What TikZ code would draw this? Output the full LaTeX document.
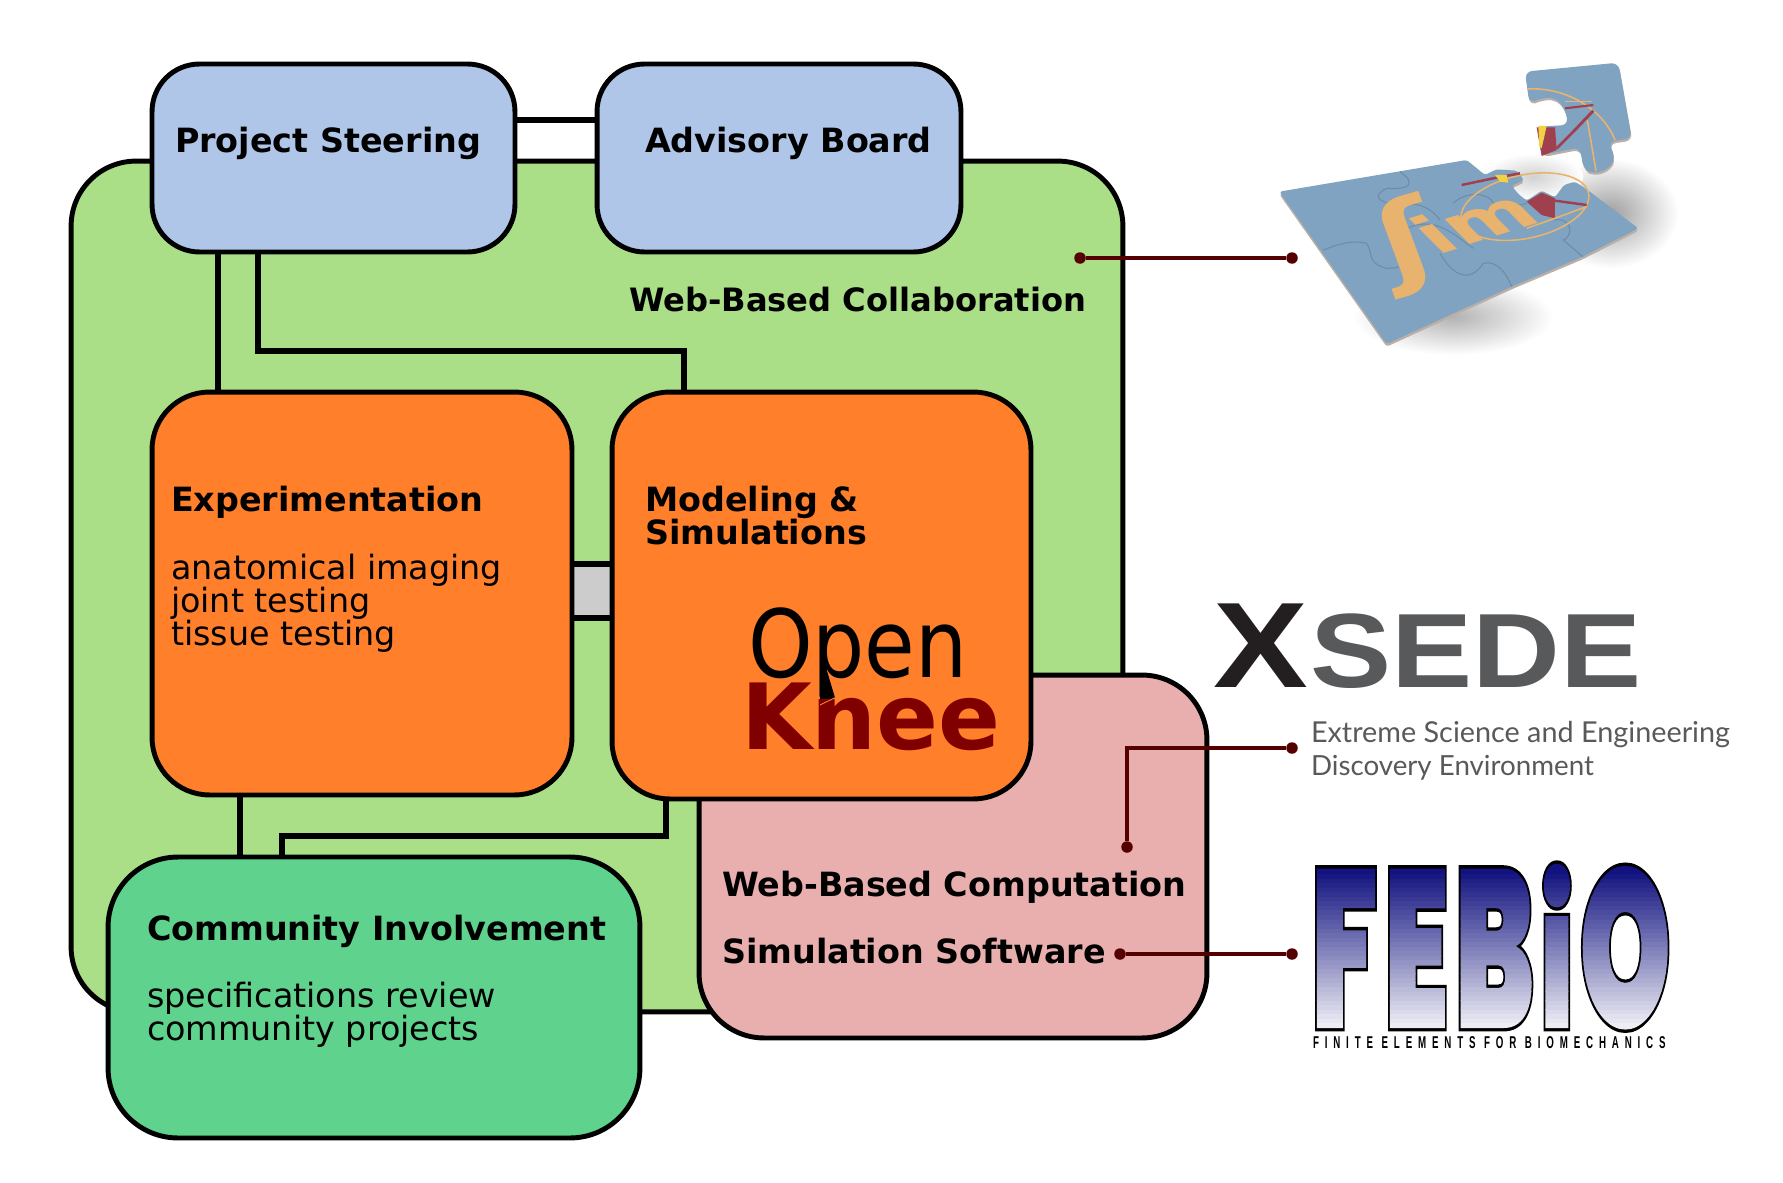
\documentclass[tikz,border=0pt]{standalone}
\usepackage{fontspec}
\usepackage{graphicx}
\usetikzlibrary{calc}
\setmainfont{DejaVu Sans}
\newfontfamily\libsans{Liberation Sans}
\newfontfamily\lato{Lato}
\newfontfamily\febfont{Poppins}[UprightFont={* Black},BoldFont={* Black}]
\newfontfamily\finfont{Liberation Sans}[LetterSpace=60]
\definecolor{cgreen}{HTML}{AADE87}
\definecolor{cblue}{HTML}{AFC6E9}
\definecolor{corange}{HTML}{FF7F2A}
\definecolor{cpink}{HTML}{E9AFAF}
\definecolor{ccomm}{HTML}{5FD38D}
\definecolor{cknee}{HTML}{800000}
\definecolor{clink}{HTML}{550000}
\definecolor{cgraylogo}{HTML}{58595B}
\definecolor{cblack}{HTML}{231F20}
\definecolor{pzblue}{HTML}{7FA3C0}
\definecolor{pzedge}{HTML}{B9AFA6}
\definecolor{pzline}{HTML}{6F8CA6}
\definecolor{pztan}{HTML}{E8B36E}
\definecolor{pzred}{HTML}{A0404F}
\AtBeginDocument{\normallineskiplimit=-6pt\relax\lineskiplimit=-6pt\relax}
\tikzset{
  boxn/.style={draw=black,line width=2.8pt,inner sep=0,outer sep=0,rectangle},
  conn/.style={draw=black,line width=3.5pt},
  link/.style={draw=clink,line width=2.6pt},
  dotn/.style={circle,fill=clink,inner sep=0,outer sep=0,minimum size=0.23cm},
  lab/.style={anchor=base west,inner sep=0,outer sep=0,font=\fontsize{19}{18.7}\selectfont,align=left},
  blab/.style={lab,font=\fontsize{19}{18.7}\selectfont\bfseries},
  logot/.style={anchor=base west,inner sep=0,outer sep=0},
}
\newcommand{\pzloose}{(855,95) -- (1135,68) -- (1175,295) -- (1105,305) -- (1125,350) -- (1110,385) -- (1060,402) -- (1030,385) -- (1020,322) -- (905,345) -- (890,260) -- (985,255) -- (975,205) -- (945,172) -- (900,175) -- (868,190) -- cycle}
\newcommand{\pzmain}{(118,455) -- (680,360) -- (735,405) -- (770,388) -- (830,392) -- (852,420) -- (815,437) -- (835,462) -- (860,482) -- (905,452) -- (945,472) -- (972,435) -- (1005,425) -- (1040,448) -- (1195,565) -- (1028,650) -- (815,740) -- (440,912) -- cycle}
% vertical gradient clipped to the word: drawn in the word's own coordinates
\newcommand{\febioword}{%
  \fontsize{100}{100}\febfont
  \rule{0pt}{70pt}%
  \special{pdf:literal direct q 5 Tr 0 0 0 RG 3 w}%
  F\kern5pt E\kern5pt B\kern5pt{\fontsize{88}{88}\selectfont i}\kern5pt O%
  \special{pdf:literal direct 0 Tr}%
  \special{pdf:literal 0.07 0.07 0.50 rg -600 68 800 40 re f 0.93 0.93 0.96 rg -600 -30 800 30 re f}%
  \foreach \i in {0,...,34}{%
    \pgfmathsetmacro{\tf}{\i/34}%
    \pgfmathsetmacro{\cr}{0.93-0.86*\tf}%
    \pgfmathsetmacro{\cg}{0.93-0.86*\tf}%
    \pgfmathsetmacro{\cb}{0.96-0.46*\tf}%
    \pgfmathsetmacro{\yy}{\i*2}%
    \special{pdf:literal \cr\space\cg\space\cb\space rg -600 \yy\space 800 2.2 re f}%
  }%
  \special{pdf:literal direct Q}%
}
\begin{document}
\begin{tikzpicture}[x=0.02cm,y=-0.02cm]
\useasboundingbox (0,0) rectangle (1783,1183);
\fill[white] (0,0) rectangle (1783,1183);

% large panels
\node[boxn,fill=cgreen,rounded corners=1.3cm,minimum width=21.04cm,minimum height=17.02cm] (gr) at (597,586.5) {};
\node[boxn,fill=cpink,rounded corners=1.3cm,minimum width=10.16cm,minimum height=7.26cm] (pk) at (953,856.5) {};

% anchors for the connector columns
\coordinate (c1) at (218,0);
\coordinate (c2) at (258,351);
\coordinate (c3) at (684,351);
\coordinate (c4) at (240,0);
\coordinate (c5) at (666,836);
\coordinate (c6) at (282,836);
\coordinate (r1) at (0,120);
\coordinate (r2) at (0,591);

% boxes are declared first with a path-less pass so connectors can go beneath them
\path node[minimum width=7.26cm,minimum height=3.76cm,inner sep=0,outer sep=0] (ps) at (333.5,158) {}
      node[minimum width=7.28cm,minimum height=3.76cm,inner sep=0,outer sep=0] (ab) at (779,158) {}
      node[minimum width=8.4cm,minimum height=8.06cm,inner sep=0,outer sep=0] (ex) at (362,593.5) {}
      node[minimum width=8.38cm,minimum height=8.14cm,inner sep=0,outer sep=0] (mo) at (821.5,595.5) {}
      node[minimum width=10.64cm,minimum height=5.62cm,inner sep=0,outer sep=0] (cm) at (374,997.5) {};

% connectors
\draw[conn] (ps.east |- r1) -- (ab.west |- r1);
\draw[conn] (c1 |- ps.south) -- (c1 |- ex.north);
\draw[conn] (c2 |- ps.south) -- (c2) -- (c3) -- (c3 |- mo.north);
\draw[conn] (c4 |- ex.south) -- (c4 |- cm.north);
\draw[conn] (c5 |- mo.south) -- (c5) -- (c6) -- (c6 |- cm.north);
\draw[black,line width=3.4pt,double=black!20,double distance=0.96cm] (ex.east |- r2) -- (mo.west |- r2);

% boxes
\node[boxn,fill=cblue,rounded corners=0.95cm,minimum width=7.26cm,minimum height=3.76cm] at (ps) {};
\node[boxn,fill=cblue,rounded corners=0.95cm,minimum width=7.28cm,minimum height=3.76cm] at (ab) {};
\node[boxn,fill=corange,rounded corners=1.15cm,minimum width=8.4cm,minimum height=8.06cm] at (ex) {};
\node[boxn,fill=corange,rounded corners=1.15cm,minimum width=8.38cm,minimum height=8.14cm] at (mo) {};
\node[boxn,fill=ccomm,rounded corners=1.4cm,minimum width=10.64cm,minimum height=5.62cm] at (cm) {};

% labels
\node[blab] (t1) at (175,152) {Project Steering};
\node[blab] (t2) at (645,152) {Advisory Board};
\node[blab,font=\fontsize{18.3}{18.7}\selectfont\bfseries] (t3) at (629,311) {Web-Based Collaboration};
\node[blab] (t4) at (171,511) {Experimentation};
\node[lab] (t5) at (171,645) {anatomical imaging\\joint testing\\tissue testing};
\node[blab] (t6) at (645,544) {Modeling \&\\Simulations};
\node[blab] (t7) at (722,896) {Web-Based Computation};
\node[blab] (t8) at (722,963) {Simulation Software};
\node[blab] (t9) at (147,940) {Community Involvement};
\node[lab] (t10) at (147,1040) {specifications review\\community projects};

% Open Knee
\node[anchor=base west,inner sep=0,outer sep=0,font=\fontsize{53.5}{53.5}\selectfont] (open) at (748,677) {\scalebox{.875}[1]{Open}};
\fill[black] (826.7,670) -- (835,697.7) -- (820,705) -- (820,670) -- cycle;
\node[anchor=base west,inner sep=0,outer sep=0,text=cknee,font=\fontsize{52}{52}\selectfont\bfseries] (knee) at (741,749) {Knee};
\draw[corange,line width=0.5pt] (820,705) -- (835,697.7);

% dots and leader lines
\node[dotn] (d1) at (1080,258) {};
\node[dotn] (d2) at (1292,258) {};
\node[dotn] (d3) at (1127,847) {};
\node[dotn] (d4) at (1292,748) {};
\node[dotn] (d5) at (1120,954) {};
\node[dotn] (d6) at (1292,954) {};
\draw[link] (d1) -- (d2);
\draw[link] (d3) |- (d4);
\draw[link] (d5) -- (d6);

% puzzle picture
\begin{scope}[shift={(1240,40)},x=0.00667cm,y=-0.00667cm]
  \shade[inner color=black!38,outer color=white] (1110,520) ellipse (205 and 165);
  \shade[inner color=black!30,outer color=white] (640,830) ellipse (300 and 115);
  \shade[inner color=black!18,outer color=white] (880,410) ellipse (150 and 70);
  \fill[pzedge,rounded corners=1.5pt,shift={(0,8)}] \pzmain;
  \fill[pzblue,rounded corners=1.5pt] \pzmain;
  % jigsaw seams
  \draw[pzline,line width=0.6pt] (250,630) .. controls (300,610) and (340,600) .. (380,610) .. controls (400,640) and (380,670) .. (440,685) .. controls (500,685) and (530,660) .. (520,625) .. controls (470,590) and (470,570) .. (530,555) .. controls (600,540) and (650,590) .. (700,625);
  \draw[pzline,line width=0.6pt] (480,395) .. controls (530,430) and (510,450) .. (440,445) .. controls (390,470) and (420,490) .. (480,495) .. controls (530,485) and (570,500) .. (600,540);
  \draw[pzline,line width=0.6pt] (600,640) .. controls (640,710) and (690,730) .. (730,670) .. controls (770,660) and (800,700) .. (815,740);
  \draw[pzline,line width=0.6pt] (640,490) .. controls (680,450) and (750,460) .. (760,490) .. controls (800,500) and (830,500) .. (860,490);
  \draw[pzline,line width=0.6pt] (940,540) .. controls (1000,530) and (1000,590) .. (970,600) -- (1028,650);
  % circle and red detail
  \draw[pztan,line width=0.9pt,rotate around={12:(855,500)}] (855,500) ellipse (195 and 95);
  \fill[pzred] (860,485) -- (905,458) -- (945,475) -- (945,535) -- (905,525) -- cycle;
  \draw[pzred,line width=1.4pt] (930,480) -- (1040,495);
  \draw[pzred,line width=1.4pt] (665,435) -- (760,415) -- (840,400);
  \fill[pztan!60!yellow] (765,405) -- (800,405) -- (805,428) -- (780,425) -- cycle;
  \draw[pztan,line width=0.9pt] (860,565) -- (945,535) -- (1040,500);
  % loose piece
  \fill[pzedge,rounded corners=4pt,shift={(2,7)}] \pzloose;
  \fill[pzblue,rounded corners=4pt] \pzloose;
  \draw[pztan,line width=0.9pt] (862,147) .. controls (980,140) and (1090,210) .. (1125,300);
  \draw[pztan,line width=0.9pt] (1042,240) -- (1068,392);
  \draw[pztan,line width=0.9pt] (975,185) -- (1055,185);
  \fill[pzred] (890,262) -- (945,262) -- (950,330) -- (905,348) -- cycle;
  \fill[pztan!60!yellow] (895,258) -- (920,258) -- (905,325) -- (898,320) -- cycle;
  \draw[pzred,line width=1.6pt] (950,325) -- (1000,275) -- (1060,212);
  \draw[pzred,line width=1.2pt] (975,205) -- (1060,195);
\end{scope}
\begin{scope}[cm={.7,.2,-.2,.54,(1392,278)}]
  \node[transform shape,anchor=base west,inner sep=0,outer sep=0,text=pztan,font=\fontsize{100}{100}\selectfont\bfseries] (fim1) at (0,0) {ʃ};
\end{scope}
\begin{scope}[cm={.9,.28,-.53,.53,(1437,255)}]
  \node[transform shape,anchor=base west,inner sep=0,outer sep=0,text=pztan,font=\fontsize{49}{49}\selectfont\bfseries] (fim2) at (0,0) {im};
\end{scope}

% XSEDE
\node[logot,text=cblack] (xs1) at (1213,687) {\libsans\bfseries\resizebox{53.9pt}{47.6pt}{X}};
\node[logot,text=cgraylogo] (xs2) at (1310,687) {\libsans\bfseries\resizebox{188.5pt}{41.95pt}{SEDE}};
\node[logot,text=cgraylogo] (xs3) at (1311,742) {\lato\resizebox{238.5pt}{!}{Extreme Science and Engineering}};
\node[logot,text=cgraylogo] (xs4) at (1311,775) {\lato\resizebox{161pt}{!}{Discovery Environment}};

% FEBio
\node[logot] (fb1) at (1311,1028) {\resizebox{205pt}{93.5pt}{\febioword}};
\node[logot,text=black] (fb2) at (1313,1048) {\resizebox{200.7pt}{6.8pt}{\finfont\bfseries FINITE ELEMENTS FOR BIOMECHANICS}};
\end{tikzpicture}
\end{document}
